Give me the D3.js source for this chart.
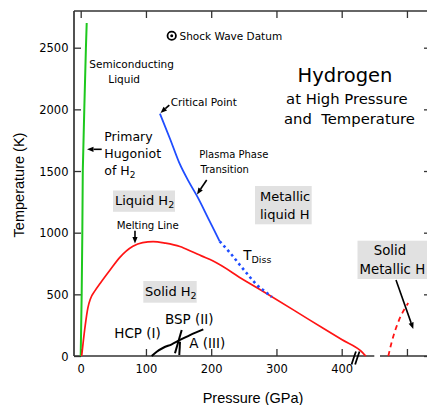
<!DOCTYPE html>
<html><head><meta charset="utf-8">
<script src="https://cdn.jsdelivr.net/npm/d3@7"></script>
<style>
body{margin:0;background:#fff}
svg{display:block}
text{font-family:"DejaVu Sans",sans-serif;fill:#000}
</style>
</head><body>
<svg id="c" width="427" height="405"></svg>
<script>
// ---------- data ----------
const xTicks = [0, 100, 200, 300, 400, 500];
const xTickLabels = ["0", "100", "200", "300", "400"];
const yTicks = [0, 500, 1000, 1500, 2000, 2500];
const yTickLabels = ["0", "500", "1000", "1500", "2000", "2500"];

// Primary Hugoniot (green)
const hugoniotP = [0, 1.5, 2.5, 3.2, 5.5, 8, 9.2];
const hugoniotT = [0, 500, 1000, 1500, 2000, 2500, 2700];

// Melting line (red)
const meltP = [1.5, 4, 7, 11, 15, 22, 30, 45, 60, 80, 95, 111, 130, 152, 170, 185, 203, 250, 293, 350, 400, 432, 437];
const meltT = [0, 120, 250, 390, 465, 530, 590, 697, 800, 890, 920, 928, 915, 888, 848, 812, 770, 617, 481, 295, 133, 28, 0];

// Plasma phase transition (blue solid) and T_Diss (blue dotted)
const pptP = [121.5, 137, 152, 165, 179, 196, 213];
const pptT = [1965, 1760, 1555, 1420, 1290, 1110, 930];
const dissP = [213, 230, 244, 257, 270, 282, 293];
const dissT = [930, 830, 738, 655, 576, 525, 478];

// Solid metallic boundary (red dashed)
const metalP = [471.5, 477, 484, 492, 502];
const metalT = [0, 120, 238, 340, 430];

// Low-T solid phase boundaries (black)
const b12P = [108.8, 116.5, 126.6, 139.5, 152.2, 167.5, 187.9];
const b12T = [0, 35, 67, 95, 130, 170, 216];
const b2P = [144.5, 154.8];
const b2T = [22, 211];
const b3P = [151.1, 152.2];
const b3T = [8, 116];

// Shock wave datum
const shockP = [139.5];
const shockT = [2597];

// ---------- setup ----------
const svg = d3.select("#c");
const x = d3.scaleLinear().domain([0, 500]).range([80.7, 406.95]);
const y = d3.scaleLinear().domain([0, 2500]).range([356, 47.7]);
const X0 = 74, X1 = 431, Y0 = 356, Y1 = 11;
const frameColor = "#333";

const zip = (a, b) => a.map((v, i) => [v, b[i]]);
const line = d3.line().x(d => x(d[0])).y(d => y(d[1]));
const smooth = d3.line().x(d => x(d[0])).y(d => y(d[1])).curve(d3.curveMonotoneX);
const smoothY = d3.line().x(d => x(d[0])).y(d => y(d[1])).curve(d3.curveMonotoneY);

// ---------- axes ----------
const axB = d3.axisBottom(x).tickValues(xTicks).tickSizeInner(-7).tickSizeOuter(0).tickPadding(9)
  .tickFormat(d => (xTickLabels[xTicks.indexOf(d)] || ""));
const gB = svg.append("g").attr("transform", `translate(0,${Y0})`).call(axB);
const axL = d3.axisLeft(y).tickValues(yTicks).tickSizeInner(-7).tickSizeOuter(0).tickPadding(5.5)
  .tickFormat(d => yTickLabels[yTicks.indexOf(d)]);
const gL = svg.append("g").attr("transform", `translate(${X0},0)`).call(axL);
const axT = d3.axisTop(x).tickValues(xTicks).tickSizeInner(-7).tickSizeOuter(0).tickFormat("");
const gT = svg.append("g").attr("transform", `translate(0,${Y1})`).call(axT);
const axR = d3.axisRight(y).tickValues(yTicks).tickSizeInner(-7).tickSizeOuter(0).tickFormat("");
const gR = svg.append("g").attr("transform", `translate(${X1},0)`).call(axR);
[gB, gL, gT, gR].forEach(g => {
  g.select(".domain").remove();
  g.selectAll(".tick line").attr("stroke", frameColor).attr("stroke-width", 1.3);
  g.selectAll(".tick text").style("font-family", "DejaVu Sans").style("font-size", "11.5px").attr("fill", "#000");
});
gL.selectAll(".tick text").attr("dy", "0.36em");

// frame lines
const frame = svg.append("g").attr("stroke", frameColor).attr("stroke-width", 1.7).attr("fill", "none");
frame.append("line").attr("x1", X0).attr("x2", X0).attr("y1", Y1).attr("y2", Y0);
frame.append("line").attr("x1", X0).attr("x2", X1).attr("y1", Y1).attr("y2", Y1);
frame.append("line").attr("x1", X0).attr("x2", 374.3).attr("y1", Y0).attr("y2", Y0);
frame.append("line").attr("x1", 380).attr("x2", X1).attr("y1", Y0).attr("y2", Y0);
// axis break marks
[418.5, 424].forEach(p => {
  frame.append("path").attr("stroke", "#000").attr("stroke-width", 1.8)
    .attr("d", `M${x(p) - 2.2},${Y0 + 8.5} Q${x(p) + 0.5},${Y0} ${x(p) + 2.2},${Y0 - 4.5}`);
});

// axis titles
svg.append("text").attr("x", 253).attr("y", 403).attr("text-anchor", "middle")
  .style("font-family", "Liberation Sans").style("font-size", "14.5px").text("Pressure (GPa)");
svg.append("text").attr("transform", "translate(24,185) rotate(-90)").attr("text-anchor", "middle")
  .style("font-family", "Liberation Sans").style("font-size", "14.5px").text("Temperature (K)");

// ---------- curves ----------
svg.append("path").attr("d", line(zip(hugoniotP, hugoniotT)))
  .attr("fill", "none").attr("stroke", "#1ec81e").attr("stroke-width", 2);
svg.append("path").attr("d", smooth(zip(meltP, meltT)))
  .attr("fill", "none").attr("stroke", "#ff1414").attr("stroke-width", 1.7);
svg.append("path").attr("d", smoothY(zip(metalP, metalT)))
  .attr("fill", "none").attr("stroke", "#ff1414").attr("stroke-width", 1.8).attr("stroke-dasharray", "5,4");
svg.append("path").attr("d", smooth(zip(pptP, pptT).reverse()))
  .attr("fill", "none").attr("stroke", "#1f4dff").attr("stroke-width", 1.8);
svg.append("path").attr("d", smooth(zip(dissP, dissT)))
  .attr("fill", "none").attr("stroke", "#1f4dff").attr("stroke-width", 2.6).attr("stroke-dasharray", "2.6,3.2");
const blk = svg.append("g").attr("fill", "none").attr("stroke", "#000").attr("stroke-width", 2);
blk.append("path").attr("d", smooth(zip(b12P, b12T)));
blk.append("path").attr("d", line(zip(b2P, b2T)));
blk.append("path").attr("d", line(zip(b3P, b3T)));

// shock wave datum symbol
svg.selectAll(".shock").data(zip(shockP, shockT)).enter().append("circle")
  .attr("cx", d => x(d[0])).attr("cy", d => y(d[1])).attr("r", 4.2)
  .attr("fill", "none").attr("stroke", "#000").attr("stroke-width", 1.8);
svg.selectAll(".shockdot").data(zip(shockP, shockT)).enter().append("circle")
  .attr("cx", d => x(d[0])).attr("cy", d => y(d[1])).attr("r", 1.5).attr("fill", "#000");

// ---------- arrows (data coords: from -> tip) ----------
const arrows = [
  [[135.8, 2035], [122.3, 1970]],
  [[193.1, 1427], [178.2, 1310]],
  [[32.2, 1676], [9.7, 1676]],
  [[83.2, 1016], [83.2, 912]],
  [[483.2, 616], [509.7, 219]]
];
arrows.forEach(([a, b]) => {
  const x1 = x(a[0]), y1 = y(a[1]), x2 = x(b[0]), y2 = y(b[1]);
  const ang = Math.atan2(y2 - y1, x2 - x1);
  const L = 6.5, W = 2.6;
  const bx = x2 - L * Math.cos(ang), by = y2 - L * Math.sin(ang);
  svg.append("line").attr("x1", x1).attr("y1", y1).attr("x2", bx).attr("y2", by)
    .attr("stroke", "#000").attr("stroke-width", 1.6);
  svg.append("path").attr("fill", "#000")
    .attr("d", `M${x2},${y2}L${bx + W * Math.sin(ang)},${by - W * Math.cos(ang)}L${bx - W * Math.sin(ang)},${by + W * Math.cos(ang)}Z`);
});

// ---------- gray label boxes ----------
const boxes = [
  [113, 190.5, 62, 21.3],
  [143.3, 281, 53.4, 21.7],
  [255, 186, 56.7, 38.3],
  [357.5, 240.7, 75, 38.3]
];
boxes.forEach(b => svg.append("rect").attr("x", b[0]).attr("y", b[1]).attr("width", b[2]).attr("height", b[3]).attr("fill", "#e1e1e1"));

// ---------- text labels ----------
function label(xp, yp, size, parts, anchor) {
  const t = svg.append("text").attr("x", xp).attr("y", yp).style("font-size", size + "px")
    .attr("text-anchor", anchor || "start").style("white-space", "pre");
  parts.forEach(p => {
    if (typeof p === "string") t.append("tspan").text(p);
    else t.append("tspan").attr("dy", p.dy).style("font-size", p.size + "px").text(p.t);
  });
  return t;
}
label(179.5, 40, 10.5, ["Shock Wave Datum"]);
label(89.3, 68.3, 10.5, ["Semiconducting"]);
label(108.3, 82.5, 10.5, ["Liquid"]);
label(345, 81.7, 19.5, ["Hydrogen"], "middle");
label(346.8, 104, 14.8, ["at High Pressure"], "middle");
label(349.5, 124, 14.8, ["and  Temperature"], "middle");
label(170.7, 105.5, 10.5, ["Critical Point"]);
label(104.3, 141, 12.5, ["Primary"]);
label(104.3, 158, 12.5, ["Hugoniot"]);
label(104.3, 175, 12.5, ["of H", {t: "2", size: 9, dy: 3}]);
label(199.3, 158, 10, ["Plasma Phase"]);
label(200.5, 173, 10, ["Transition"]);
label(115, 205, 13, ["Liquid H", {t: "2", size: 9.5, dy: 3}]);
label(260, 200.5, 13, ["Metallic"]);
label(260, 219, 13, ["liquid H"]);
label(116.7, 229.3, 10.2, ["Melting Line"]);
label(243.3, 259.5, 13.5, ["T", {t: "Diss", size: 9.5, dy: 3.5}]);
label(390, 254.5, 13.3, ["Solid"], "middle");
label(359.5, 274, 13.3, ["Metallic H"]);
label(145, 295.5, 13, ["Solid H", {t: "2", size: 9.5, dy: 3}]);
label(114.3, 337.5, 13.5, ["HCP (I)"]);
label(165, 324, 13.5, ["BSP (II)"]);
label(189.3, 348, 13.5, ["A (III)"]);
</script>
</body></html>
